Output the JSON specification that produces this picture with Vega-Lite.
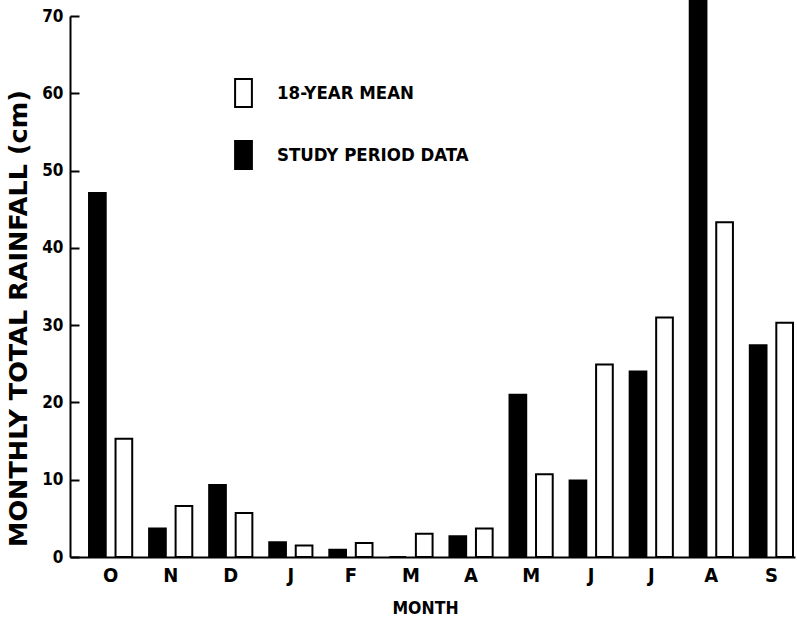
{
  "$schema": "https://vega.github.io/schema/vega-lite/v6.json",
  "width": 725,
  "height": 541,
  "autosize": {"type": "none"},
  "padding": {"left": 70, "top": 16, "right": 2, "bottom": 67},
  "background": "white",
  "config": {"view": {"stroke": null}},
  "data": {
    "values": [
      {"month": "Oct", "series": "STUDY PERIOD DATA", "value": 47.1},
      {"month": "Nov", "series": "STUDY PERIOD DATA", "value": 3.7},
      {"month": "Dec", "series": "STUDY PERIOD DATA", "value": 9.3},
      {"month": "Jan", "series": "STUDY PERIOD DATA", "value": 1.9},
      {"month": "Feb", "series": "STUDY PERIOD DATA", "value": 0.95},
      {"month": "Mar", "series": "STUDY PERIOD DATA", "value": 0},
      {"month": "Apr", "series": "STUDY PERIOD DATA", "value": 2.7},
      {"month": "May", "series": "STUDY PERIOD DATA", "value": 21.0},
      {"month": "Jun", "series": "STUDY PERIOD DATA", "value": 9.9},
      {"month": "Jul", "series": "STUDY PERIOD DATA", "value": 24.0},
      {"month": "Aug", "series": "STUDY PERIOD DATA", "value": 72.5},
      {"month": "Sep", "series": "STUDY PERIOD DATA", "value": 27.4},
      {"month": "Oct", "series": "18-YEAR MEAN", "value": 15.3},
      {"month": "Nov", "series": "18-YEAR MEAN", "value": 6.6},
      {"month": "Dec", "series": "18-YEAR MEAN", "value": 5.7},
      {"month": "Jan", "series": "18-YEAR MEAN", "value": 1.5},
      {"month": "Feb", "series": "18-YEAR MEAN", "value": 1.8},
      {"month": "Mar", "series": "18-YEAR MEAN", "value": 3.0},
      {"month": "Apr", "series": "18-YEAR MEAN", "value": 3.7},
      {"month": "May", "series": "18-YEAR MEAN", "value": 10.7},
      {"month": "Jun", "series": "18-YEAR MEAN", "value": 24.9},
      {"month": "Jul", "series": "18-YEAR MEAN", "value": 31.0},
      {"month": "Aug", "series": "18-YEAR MEAN", "value": 43.3},
      {"month": "Sep", "series": "18-YEAR MEAN", "value": 30.3}
    ]
  },
  "mark": {"type": "bar", "stroke": "black", "strokeWidth": 2, "strokeJoin": "miter"},
  "encoding": {
    "x": {
      "field": "month",
      "type": "nominal",
      "scale": {
        "domain": ["Oct", "Nov", "Dec", "Jan", "Feb", "Mar", "Apr", "May", "Jun", "Jul", "Aug", "Sep"],
        "paddingInner": 0.281,
        "paddingOuter": 0.175,
        "align": 0.905
      },
      "axis": {
        "title": "MONTH",
        "labelAngle": 0,
        "ticks": false,
        "domainWidth": 2,
        "domainColor": "black",
        "labelExpr": "substring(datum.value, 0, 1)",
        "labelFont": "DejaVu Sans Condensed",
        "labelFontSize": 20,
        "labelFontWeight": "bold",
        "labelColor": "black",
        "labelPadding": 8,
        "titleFont": "DejaVu Sans Condensed",
        "titleFontSize": 17.5,
        "titleFontWeight": "bold",
        "titleColor": "black",
        "titleX": 355,
        "titleY": 51,
        "titleBaseline": "middle",
        "titleAnchor": "middle",
        "titleAlign": "center"
      }
    },
    "xOffset": {
      "field": "series",
      "type": "nominal",
      "scale": {"domain": ["STUDY PERIOD DATA", "18-YEAR MEAN"], "paddingInner": 0.37, "paddingOuter": 0}
    },
    "y": {
      "field": "value",
      "type": "quantitative",
      "scale": {"domain": [0, 70], "nice": false},
      "axis": {
        "title": "MONTHLY TOTAL RAINFALL (cm)",
        "values": [0, 10, 20, 30, 40, 50, 60, 70],
        "grid": false,
        "domainWidth": 2,
        "domainColor": "black",
        "tickColor": "black",
        "tickWidth": 2,
        "tickSize": -9,
        "labelPadding": 16,
        "labelFont": "DejaVu Sans Condensed",
        "labelFontSize": 17,
        "labelFontWeight": "bold",
        "labelColor": "black",
        "titleFont": "DejaVu Sans",
        "titleFontSize": 25.5,
        "titleFontWeight": "bold",
        "titleColor": "black",
        "titleAngle": -90,
        "titleX": -52,
        "titleY": 302,
        "titleBaseline": "middle",
        "titleAlign": "center"
      }
    },
    "fill": {
      "field": "series",
      "type": "nominal",
      "scale": {"domain": ["18-YEAR MEAN", "STUDY PERIOD DATA"], "range": ["white", "black"]},
      "legend": {
        "orient": "none",
        "legendX": 158.5,
        "legendY": 62,
        "title": null,
        "symbolType": "M-0.6,-1H0.6V1H-0.6Z",
        "symbolSize": 784,
        "symbolStrokeColor": "black",
        "symbolStrokeWidth": 2,
        "symbolOpacity": 1,
        "labelFont": "DejaVu Sans Condensed",
        "labelFontSize": 18.5,
        "labelFontWeight": "bold",
        "labelColor": "black",
        "labelOffset": 18.5,
        "labelLimit": 400,
        "rowPadding": 26
      }
    }
  }
}
